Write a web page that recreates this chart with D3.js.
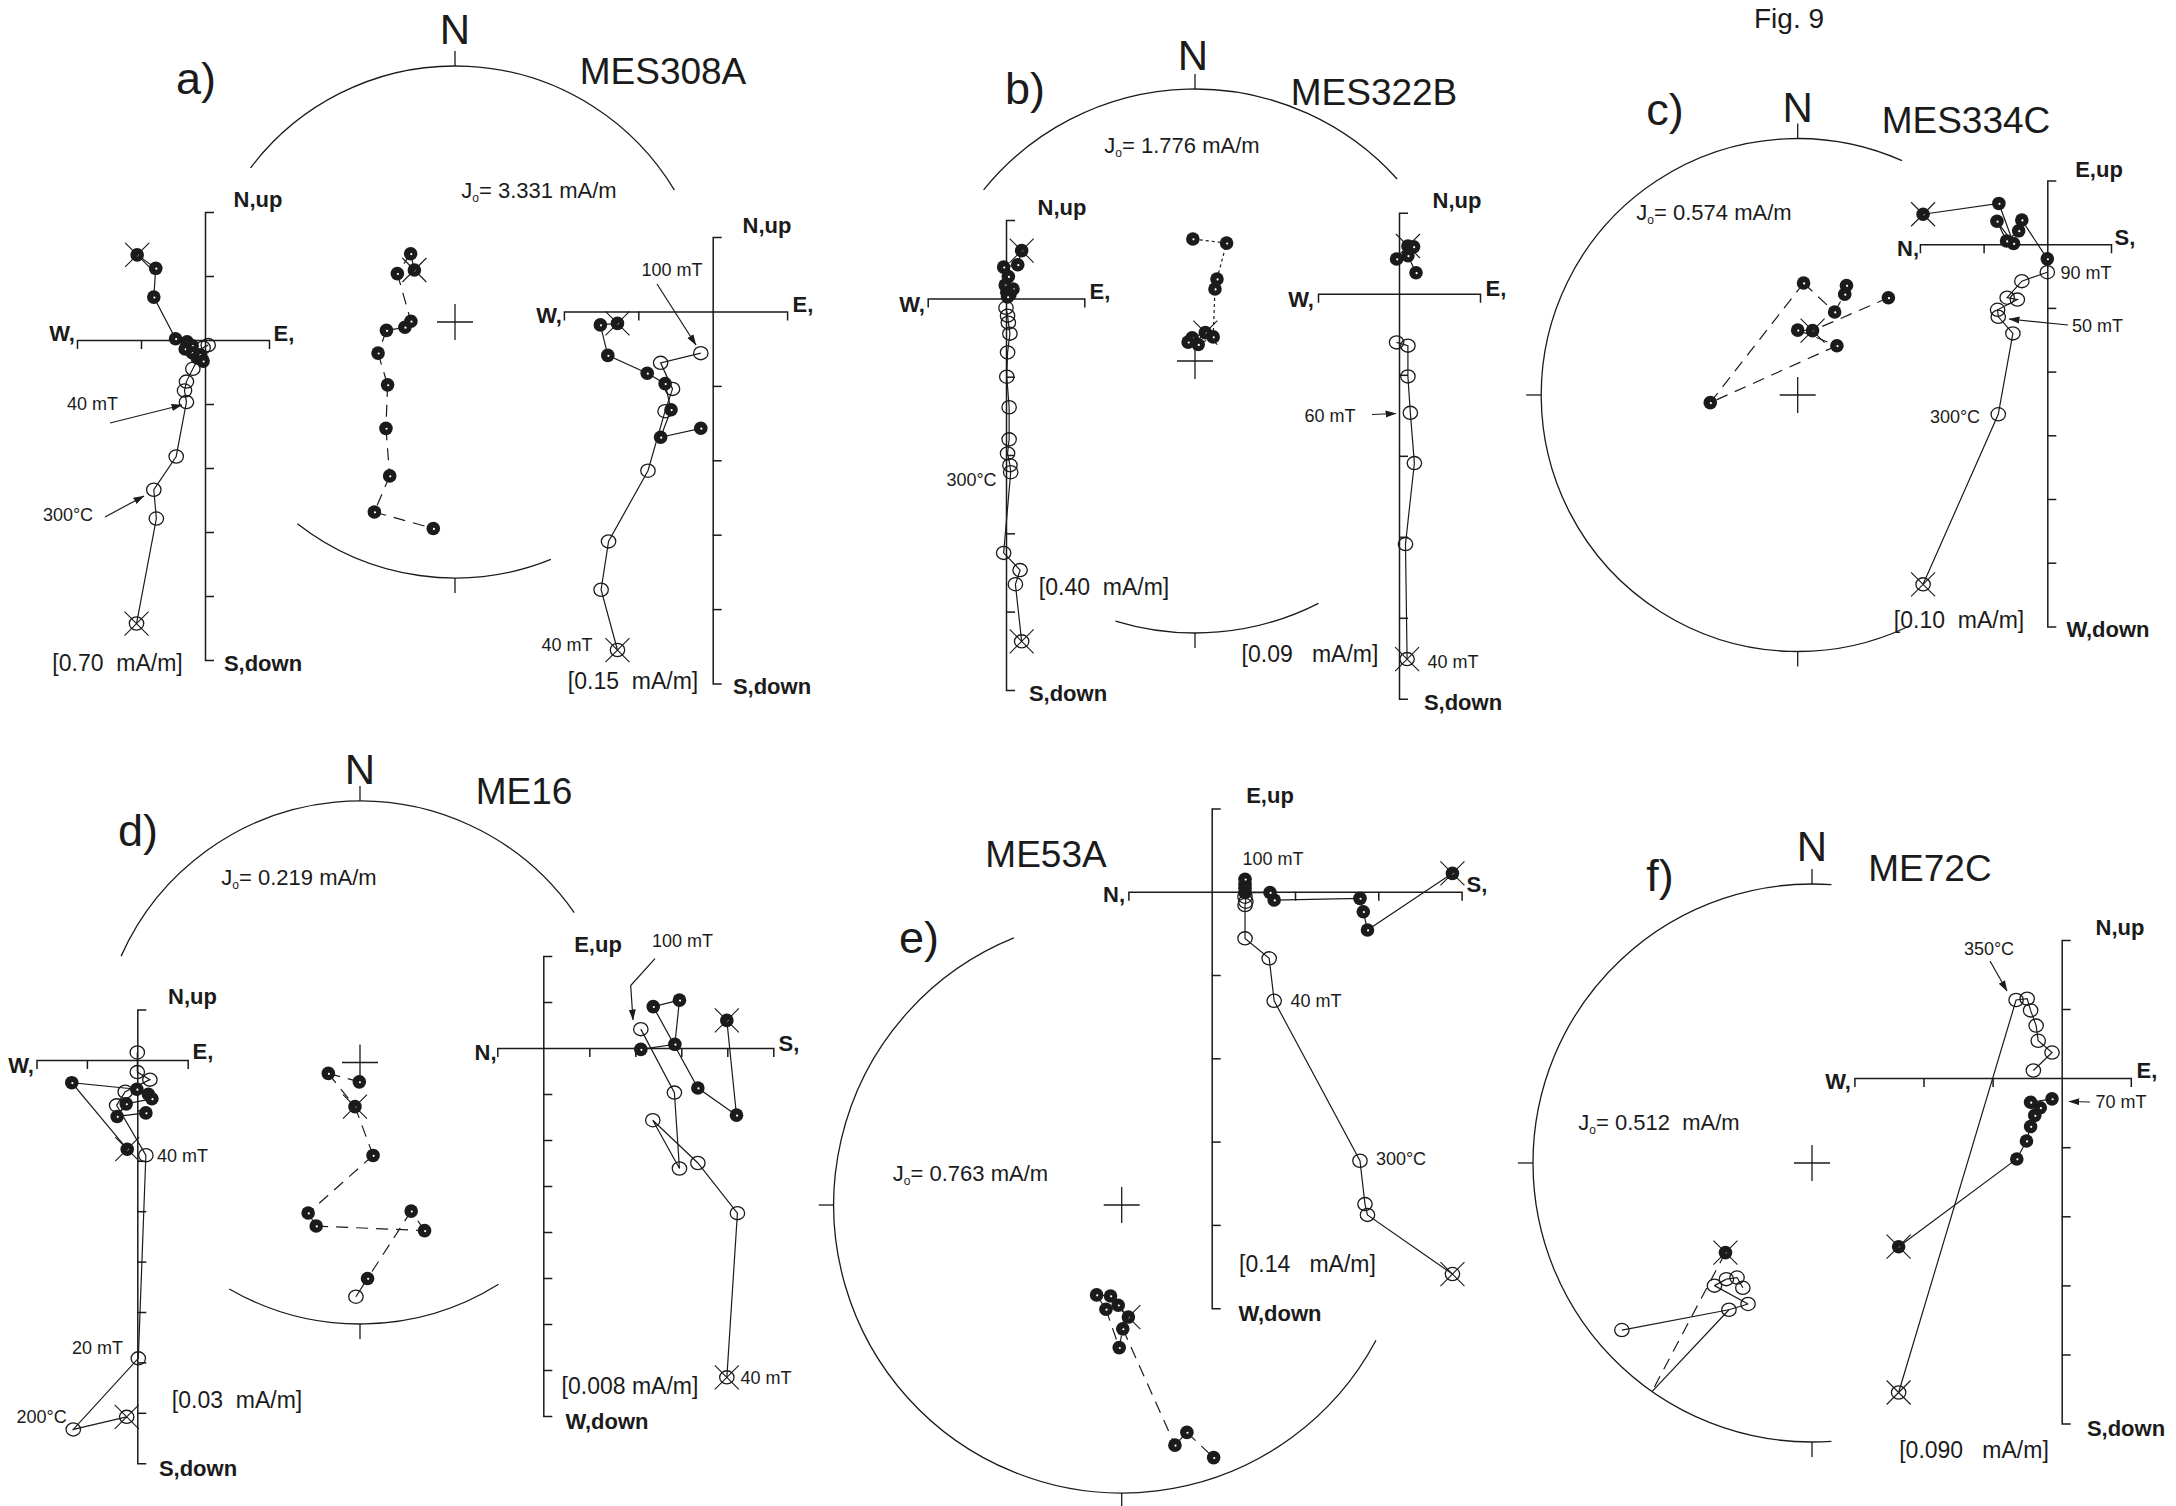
<!DOCTYPE html>
<html>
<head>
<meta charset="utf-8">
<script src="https://cdn.jsdelivr.net/npm/d3@7"></script>
<style>
  body { margin: 0; background: #fff; }
  svg { display: block; background: #fff; }
  text { font-family: "Liberation Sans", Arial, Helvetica, sans-serif; fill: #1b1b1b; white-space: pre; }
</style>
</head>
<body>
<svg id="fig" width="2176" height="1506"></svg>
<script>
// ---------------------------------------------------------------------------
// Orthogonal (Zijderveld) projections, in units of one axis division.
// Each series starts at the NRM (crossed symbol) and follows the
// demagnetization steps. "Horiz" = horizontal-plane projection (solid dots),
// "Vert" = vertical-plane projection (open circles).
// ---------------------------------------------------------------------------
const aLeftHoriz = [[-1.06,1.33],[-0.77,1.12],[-0.80,0.67],[-0.46,0.02],[-0.28,-0.03],[-0.31,-0.14],[-0.20,-0.09],[-0.20,-0.20],[-0.12,-0.28],[-0.08,-0.23],[-0.03,-0.33]];
const aLeftVert  = [[-1.07,-4.43],[-0.76,-2.79],[-0.80,-2.34],[-0.45,-1.82],[-0.29,-0.97],[-0.32,-0.79],[-0.29,-0.65],[-0.19,-0.45],[-0.08,-0.25],[-0.03,-0.12],[0.05,-0.08]];

const aRightHoriz = [[-1.28,-0.16],[-1.51,-0.18],[-1.41,-0.59],[-0.88,-0.83],[-0.64,-0.97],[-0.56,-1.32],[-0.70,-1.69],[-0.16,-1.57]];
const aRightVert  = [[-1.28,-4.55],[-1.50,-3.74],[-1.40,-3.09],[-0.87,-2.14],[-0.64,-1.34],[-0.54,-1.04],[-0.70,-0.69],[-0.16,-0.56]];

const bLeftHoriz = [[0.20,0.61],[0.15,0.43],[-0.03,0.40],[0.03,0.28],[-0.01,0.17],[0.09,0.12],[0.01,0.08],[0.05,0.05],[0.02,0.02]];
const bLeftVert  = [[0.20,-4.38],[0.12,-3.65],[0.18,-3.47],[-0.03,-3.25],[0.06,-2.22],[0.05,-2.13],[0.02,-1.98],[0.04,-1.80],[0.04,-1.39],[0.01,-1.00],[0.02,-0.69],[0.05,-0.45],[0.03,-0.31],[0.02,-0.22],[0.00,-0.12]];

const bRightHoriz = [[0.11,0.59],[0.18,0.58],[-0.03,0.43],[0.11,0.47],[0.21,0.26]];
const bRightVert  = [[0.10,-4.51],[0.08,-3.09],[0.19,-2.09],[0.14,-1.47],[0.11,-1.02],[0.11,-0.64],[-0.03,-0.60]];

const cHoriz = [[-1.95,0.47],[-0.76,0.64],[-0.53,0.01],[-0.79,0.36],[-0.64,0.05],[-0.45,0.21],[-0.40,0.38],[0.00,-0.23]];
const cVert  = [[-1.95,-5.34],[-0.77,-2.67],[-0.54,-1.40],[-0.77,-1.14],[-0.78,-1.03],[-0.47,-0.87],[-0.63,-0.84],[-0.40,-0.58],[0.00,-0.44]];

const dLeftHoriz = [[-0.20,-1.77],[-1.30,-0.45],[-0.01,-0.58],[0.22,-0.68],[0.29,-0.77],[-0.22,-0.87],[-0.40,-1.12],[0.17,-1.05]];
const dLeftVert  = [[-0.21,-7.08],[-1.27,-7.33],[0.02,-5.92],[0.17,-1.89],[-0.41,-0.90],[-0.24,-0.63],[0.25,-0.39],[0.00,-0.24],[0.00,0.15]];

const dRightHoriz = [[3.99,0.60],[4.20,-1.46],[3.36,-0.87],[2.39,0.90],[2.96,1.04],[2.86,0.08],[2.12,-0.03]];
const dRightVert  = [[3.99,-7.16],[4.22,-3.59],[3.36,-2.50],[2.38,-1.57],[2.96,-2.62],[2.85,-0.97],[2.12,0.41]];

const eHoriz = [[2.89,0.22],[1.87,-0.46],[1.82,-0.24],[1.78,-0.08],[0.75,-0.10],[0.70,-0.01],[0.40,-0.01],[0.40,0.04],[0.40,0.09],[0.40,0.15]];
const eVert  = [[2.89,-4.59],[1.87,-3.88],[1.84,-3.75],[1.78,-3.23],[0.75,-1.31],[0.69,-0.80],[0.40,-0.56],[0.40,-0.16],[0.41,-0.12],[0.40,-0.06]];

const fHoriz = [[-2.36,-2.44],[-0.65,-1.17],[-0.51,-0.91],[-0.45,-0.70],[-0.39,-0.54],[-0.31,-0.43],[-0.45,-0.35],[-0.14,-0.30]];
const fVert  = [[-2.36,-4.55],[-0.66,1.13],[-0.50,1.15],[-0.45,0.98],[-0.37,0.76],[-0.34,0.54],[-0.14,0.37],[-0.41,0.11]];

// ---------------------------------------------------------------------------
// Equal-area stereonet directions: [declination, inclination] in degrees.
// Positive inclination = lower hemisphere (solid), negative = upper (open).
// ---------------------------------------------------------------------------
const aDirs = [[322,69],[327,64],[310,66],[271,76],[264,74],[263,68],[248,63.5],[227,60.5],[213,49],[203,35],[203,20.5],[186,20]];
const bDirs = [[20,81],[353,83],[340,84],[11,85],[37,81],[15.5,67.6],[15,64.5],[15,53],[359,53]];
const cDirs = [[43,47],[13,69],[0,69.4],[38.5,70],[265,62],[3,54],[24,61],[25,54.3],[24,51.4]];
const dDirs = [[182,84],[251,79.6],[186.5,76.2],[172,60.6],[199,39],[195,35.5],[159,31.7],[161,39.7],[178,18.5],[181,-11.4]];
const eDirs = [[176.6,58],[182,61.5],[187,64],[195.6,63.5],[188.6,60],[181,49],[179.5,54.6],[167.5,15.7],[164,19],[160,7.4]];
const fDirs = [[224,53.2],[215,0],[209.5,-39.4],[228.7,-10.2],[204.4,-43.8],[218.5,-43.2],[216.4,-47.1],[213.2,-49.4],[209,-47.6]];

// Text content
const panelLetters = ['a)','b)','c)','d)','e)','f)'];
const sampleNames  = ['MES308A','MES322B','MES334C','ME16','ME53A','ME72C'];
const nrmValues    = ['3.331 mA/m','1.776 mA/m','0.574 mA/m','0.219 mA/m','0.763 mA/m','0.512  mA/m'];

// ---------------------------------------------------------------------------
const INK = '#1b1b1b';
const svg = d3.select('#fig');

svg.append('defs').append('marker')
  .attr('id', 'arrowhead').attr('viewBox', '0 0 10 10')
  .attr('refX', 9.5).attr('refY', 5)
  .attr('markerWidth', 11).attr('markerHeight', 11)
  .attr('markerUnits', 'userSpaceOnUse').attr('orient', 'auto')
  .append('path').attr('d', 'M0,1.8 L10,5 L0,8.2 Z').attr('fill', INK);

function label(g, txt, x, y, size, bold) {
  return g.append('text')
    .attr('x', x).attr('y', y).attr('dy', '0.35em')
    .attr('text-anchor', 'middle')
    .attr('font-size', size)
    .attr('font-weight', bold ? 'bold' : 'normal')
    .text(txt);
}

function arrow(g, pts) {
  g.append('path')
    .attr('d', d3.line()(pts))
    .attr('fill', 'none').attr('stroke', INK).attr('stroke-width', 1.2)
    .attr('marker-end', 'url(#arrowhead)');
}

function solidDot(g, x, y) {
  g.append('circle').attr('cx', x).attr('cy', y).attr('r', 6.8).attr('fill', INK);
  g.append('circle').attr('cx', x + 0.6).attr('cy', y + 0.4).attr('r', 1.1).attr('fill', '#fff');
}
function openDot(g, x, y) {
  g.append('ellipse').attr('cx', x).attr('cy', y).attr('rx', 7.2).attr('ry', 6.6)
    .attr('fill', 'none').attr('stroke', INK).attr('stroke-width', 1.3);
}
function crossMark(g, x, y) {
  const h = 12;
  g.append('path').attr('d', `M${x-h},${y-h}L${x+h},${y+h}M${x-h},${y+h}L${x+h},${y-h}`)
    .attr('stroke', INK).attr('stroke-width', 1.1).attr('fill', 'none');
}

// Orthogonal projection plot
function drawZij(cfg, horiz, vert) {
  const g = svg.append('g');
  const x = d3.scaleLinear().domain(cfg.xr)
    .range([cfg.ox + cfg.xr[0] * cfg.tick, cfg.ox + cfg.xr[1] * cfg.tick]);
  const y = d3.scaleLinear().domain(cfg.yr)
    .range([cfg.oy - cfg.yr[0] * cfg.tick, cfg.oy - cfg.yr[1] * cfg.tick]);

  const xt = d3.range(cfg.xr[0] + 1, cfg.xr[1]).filter(v => v !== 0);
  const yt = d3.range(cfg.yr[0] + 1, cfg.yr[1]).filter(v => v !== 0);

  g.append('g').attr('transform', `translate(0,${y(0)})`)
    .call(d3.axisBottom(x).tickValues(xt).tickSize(9).tickSizeOuter(9).tickFormat(''));
  g.append('g').attr('transform', `translate(${x(0)},0)`)
    .call(d3.axisRight(y).tickValues(yt).tickSize(9).tickSizeOuter(9).tickFormat(''));
  g.selectAll('.domain, .tick line').attr('stroke', INK).attr('stroke-width', 1.5);

  const line = d3.line().x(d => x(d[0])).y(d => y(d[1]));
  [vert, horiz].forEach(s => g.append('path').attr('d', line(s))
    .attr('fill', 'none').attr('stroke', INK).attr('stroke-width', 1.2));

  vert.forEach(d => openDot(g, x(d[0]), y(d[1])));
  horiz.forEach(d => solidDot(g, x(d[0]), y(d[1])));
  crossMark(g, x(vert[0][0]), y(vert[0][1]));
  crossMark(g, x(horiz[0][0]), y(horiz[0][1]));

  cfg.labels.forEach(l => label(g, l[0], l[1], l[2], l[3], l[4]));
  (cfg.arrows || []).forEach(a => arrow(g, a));
}

// Equal-area (lower hemisphere) stereonet
function drawNet(cfg, dirs) {
  const g = svg.append('g');
  const deg = Math.PI / 180;
  const rad = d3.scaleLinear().domain([0, 1]).range([0, cfg.R]);
  const proj = d => {
    const r = rad(Math.SQRT2 * Math.sin((90 - Math.abs(d[1])) * deg / 2));
    return [cfg.cx + r * Math.sin(d[0] * deg), cfg.cy - r * Math.cos(d[0] * deg)];
  };

  cfg.arcs.forEach(([a0, a1]) => {
    const p = d3.path();
    p.arc(cfg.cx, cfg.cy, cfg.R, (a0 - 90) * deg, (a1 - 90) * deg, false);
    g.append('path').attr('d', p.toString()).attr('fill', 'none')
      .attr('stroke', INK).attr('stroke-width', 1.3);
  });
  cfg.ticks.forEach(az => {
    const s = Math.sin(az * deg), c = Math.cos(az * deg);
    g.append('line')
      .attr('x1', cfg.cx + cfg.R * s).attr('y1', cfg.cy - cfg.R * c)
      .attr('x2', cfg.cx + (cfg.R + 15) * s).attr('y2', cfg.cy - (cfg.R + 15) * c)
      .attr('stroke', INK).attr('stroke-width', 1.3);
  });
  g.append('path')
    .attr('d', `M${cfg.cx - 18},${cfg.cy}H${cfg.cx + 18}M${cfg.cx},${cfg.cy - 18}V${cfg.cy + 18}`)
    .attr('stroke', INK).attr('stroke-width', 1.3);

  const chains = cfg.chains || [d3.range(dirs.length)];
  chains.forEach(ch => {
    for (let i = 1; i < ch.length; i++) {
      const a = dirs[ch[i - 1]], b = dirs[ch[i]];
      const pa = proj(a), pb = proj(b);
      const lower = a[1] >= 0 && b[1] >= 0;
      g.append('line').attr('x1', pa[0]).attr('y1', pa[1]).attr('x2', pb[0]).attr('y2', pb[1])
        .attr('stroke', INK).attr('stroke-width', 1.2)
        .attr('stroke-dasharray', lower ? cfg.dash : null);
    }
  });

  dirs.forEach((d, i) => {
    if ((cfg.hidden || []).includes(i)) return;
    const [px, py] = proj(d);
    if (d[1] >= 0) solidDot(g, px, py); else openDot(g, px, py);
  });
  const n = proj(dirs[cfg.nrm]);
  crossMark(g, n[0], n[1]);
}

function jLabel(x, y, value) {
  const t = svg.append('text').attr('x', x).attr('y', y).attr('dy', '0.35em')
    .attr('text-anchor', 'middle').attr('font-size', 22);
  t.append('tspan').text('J');
  t.append('tspan').attr('font-size', 12).attr('dy', 4).text('o');
  t.append('tspan').attr('dy', -4).text('= ' + value);
}

// ---------------------------- a) MES308A ----------------------------------
drawNet({cx: 455, cy: 322, R: 256, arcs: [[-53, 59], [158, 218]], ticks: [0, 180], nrm: 0, dash: '12,8'}, aDirs);
drawZij({ox: 205, oy: 340, tick: 64, xr: [-2, 1], yr: [-5, 2],
  labels: [['N,up', 258, 199, 22, 1], ['W,', 62, 333, 22, 1], ['E,', 284, 333, 22, 1], ['S,down', 263, 663, 22, 1],
           ['[0.70  mA/m]', 117.5, 663, 23, 0], ['40 mT', 92.5, 404, 18, 0], ['300°C', 68, 515, 18, 0]],
  arrows: [[[110, 423], [182, 405]], [[105, 517], [144, 496]]]}, aLeftHoriz, aLeftVert);
drawZij({ox: 712.7, oy: 311.5, tick: 74.4, xr: [-2, 1], yr: [-5, 1],
  labels: [['N,up', 767, 225, 22, 1], ['W,', 549, 315, 22, 1], ['E,', 803, 304, 22, 1], ['S,down', 772, 686, 22, 1],
           ['[0.15  mA/m]', 633, 681, 23, 0], ['40 mT', 567, 645, 18, 0], ['100 mT', 672, 270, 18, 0]],
  arrows: [[[657, 284], [696, 345]]]}, aRightHoriz, aRightVert);

// ---------------------------- b) MES322B ----------------------------------
drawNet({cx: 1195, cy: 361, R: 272, arcs: [[-51, 48], [153, 197]], ticks: [0, 180], nrm: 0, dash: '3,3'}, bDirs);
drawZij({ox: 1006, oy: 298.4, tick: 78.3, xr: [-1, 1], yr: [-5, 1],
  labels: [['N,up', 1062, 207, 22, 1], ['W,', 912, 304, 22, 1], ['E,', 1100, 291, 22, 1], ['S,down', 1068, 693, 22, 1],
           ['[0.40  mA/m]', 1104, 587, 23, 0], ['300°C', 971.5, 480, 18, 0]]}, bLeftHoriz, bLeftVert);
drawZij({ox: 1399, oy: 293.8, tick: 81, xr: [-1, 1], yr: [-5, 1],
  labels: [['N,up', 1457, 200, 22, 1], ['W,', 1301, 299, 22, 1], ['E,', 1496, 288, 22, 1], ['S,down', 1463, 702, 22, 1],
           ['[0.09   mA/m]', 1310, 654, 23, 0], ['60 mT', 1330, 416, 18, 0], ['40 mT', 1453, 662, 18, 0]],
  arrows: [[[1372, 414.5], [1396, 413.5]]]}, bRightHoriz, bRightVert);

// ---------------------------- c) MES334C ----------------------------------
drawNet({cx: 1797.7, cy: 395, R: 256.5, arcs: [[155, 384]], ticks: [0, 180, 270], nrm: 1, dash: '12,8'}, cDirs);
drawZij({ox: 2047.3, oy: 244.2, tick: 63.7, xr: [-2, 1], yr: [-6, 1],
  labels: [['E,up', 2099, 169, 22, 1], ['N,', 1908, 248, 22, 1], ['S,', 2125, 237.5, 22, 1], ['W,down', 2108, 629, 22, 1],
           ['[0.10  mA/m]', 1959, 620, 23, 0], ['90 mT', 2086, 273, 18, 0], ['50 mT', 2097.5, 326, 18, 0], ['300°C', 1955, 417, 18, 0]],
  arrows: [[[2068, 325], [2009, 319]]]}, cHoriz, cVert);

// ---------------------------- d) ME16 -------------------------------------
drawNet({cx: 360, cy: 1062.5, R: 261.5, arcs: [[-66, 55], [148, 210]], ticks: [0, 180], nrm: 2, dash: '12,8'}, dDirs);
drawZij({ox: 137.3, oy: 1060, tick: 50.4, xr: [-2, 1], yr: [-8, 1],
  labels: [['N,up', 192.5, 996.5, 22, 1], ['W,', 21, 1065, 22, 1], ['E,', 203, 1051, 22, 1], ['S,down', 198, 1468, 22, 1],
           ['[0.03  mA/m]', 237, 1399.5, 23, 0], ['40 mT', 182.5, 1156, 18, 0], ['20 mT', 97.5, 1348, 18, 0], ['200°C', 41.7, 1416.6, 18, 0]]},
  dLeftHoriz, dLeftVert);
drawZij({ox: 543.3, oy: 1048, tick: 46, xr: [-1, 5], yr: [-8, 2],
  labels: [['E,up', 598, 944.5, 22, 1], ['N,', 485.5, 1052.5, 22, 1], ['S,', 789, 1043, 22, 1], ['W,down', 607, 1421, 22, 1],
           ['[0.008 mA/m]', 630, 1386, 23, 0], ['40 mT', 766, 1378, 18, 0], ['100 mT', 682.5, 941, 18, 0]],
  arrows: [[[655, 958.7], [630.7, 985.5], [633, 1020]]]}, dRightHoriz, dRightVert);

// ---------------------------- e) ME53A ------------------------------------
drawNet({cx: 1121.7, cy: 1205, R: 288, arcs: [[118, 338]], ticks: [180, 270], nrm: 0, dash: '12,8'}, eDirs);
drawZij({ox: 1211.7, oy: 891.7, tick: 83.3, xr: [-1, 3], yr: [-5, 1],
  labels: [['E,up', 1270, 795, 22, 1], ['N,', 1114, 894.4, 22, 1], ['S,', 1477, 884, 22, 1], ['W,down', 1280, 1313, 22, 1],
           ['[0.14   mA/m]', 1307.5, 1264, 23, 0], ['100 mT', 1273, 859, 18, 0], ['40 mT', 1316, 1001, 18, 0], ['300°C', 1401, 1159, 18, 0]]},
  eHoriz, eVert);

// ---------------------------- f) ME72C ------------------------------------
drawNet({cx: 1812, cy: 1163, R: 279, arcs: [[176, 364]], ticks: [0, 180, 270], nrm: 0, dash: '12,8',
  hidden: [1], chains: [[0, 1, 2, 3], [2, 4, 5, 6, 7, 8]]}, fDirs);
drawZij({ox: 2061.7, oy: 1078.1, tick: 69.1, xr: [-3, 1], yr: [-5, 2],
  labels: [['N,up', 2120, 927, 22, 1], ['W,', 1838, 1081.6, 22, 1], ['E,', 2147, 1070, 22, 1], ['S,down', 2126, 1428, 22, 1],
           ['[0.090   mA/m]', 1974, 1450, 23, 0], ['350°C', 1989, 949, 18, 0], ['70 mT', 2121, 1102, 18, 0]],
  arrows: [[[1990, 961], [2007, 991]], [[2090, 1102], [2069, 1101.5]]]}, fHoriz, fVert);

// ---------------------------- titles --------------------------------------
const titles = svg.append('g');
const letterPos = [[196, 78], [1025, 88], [1665, 109], [138, 830], [919, 937], [1660, 875]];
const namePos   = [[663, 71], [1374, 92], [1966, 120.5], [524, 791], [1046, 854], [1930, 868]];
const northPos  = [[455, 29], [1193, 55], [1797.7, 107], [360, 769], null, [1812, 846]];
const jPos      = [[539, 190], [1182, 145], [1714, 212], [299, 877], [970.5, 1173], [1659, 1122]];
panelLetters.forEach((t, i) => label(titles, t, letterPos[i][0], letterPos[i][1], 45, 0));
sampleNames.forEach((t, i) => label(titles, t, namePos[i][0], namePos[i][1], 37, 0));
northPos.forEach(p => { if (p) label(titles, 'N', p[0], p[1], 42, 0); });
nrmValues.forEach((v, i) => jLabel(jPos[i][0], jPos[i][1], v));
label(titles, 'Fig. 9', 1789, 18, 28, 0);
</script>
</body>
</html>
